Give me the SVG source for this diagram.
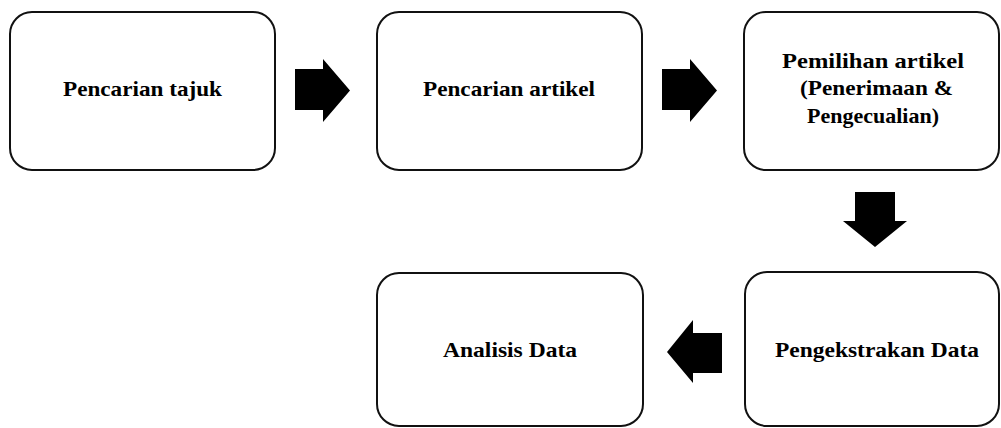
<svg xmlns="http://www.w3.org/2000/svg" width="1001" height="428" viewBox="0 0 1001 428">
<style>
.box{fill:#fff;stroke:#111;stroke-width:2}
.lbl{font-family:"Liberation Serif","Times New Roman",serif;font-weight:bold;font-size:22px;fill:#000;text-anchor:middle}
.arr{fill:#000}
</style>
<rect width="1001" height="428" fill="#fff"/>
<g id="n1"><rect class="box" x="10" y="12" width="265" height="158" rx="22"/><text class="lbl" x="142.5" y="96" textLength="159" lengthAdjust="spacingAndGlyphs">Pencarian tajuk</text></g>
<g id="n2"><rect class="box" x="377" y="12" width="265" height="158" rx="22"/><text class="lbl" x="509" y="96" textLength="172" lengthAdjust="spacingAndGlyphs">Pencarian artikel</text></g>
<g id="n3"><rect class="box" x="744" y="12" width="255" height="158" rx="22"/>
<text class="lbl" x="873" y="67.5" textLength="182" lengthAdjust="spacingAndGlyphs">Pemilihan artikel</text>
<text class="lbl" x="876.5" y="95" textLength="153" lengthAdjust="spacingAndGlyphs">(Penerimaan &amp;</text>
<text class="lbl" x="873" y="122.5" textLength="132" lengthAdjust="spacingAndGlyphs">Pengecualian)</text></g>
<g id="n4"><rect class="box" x="377" y="273" width="266" height="153" rx="22"/><text class="lbl" x="510" y="357" textLength="134" lengthAdjust="spacingAndGlyphs">Analisis Data</text></g>
<g id="n5"><rect class="box" x="745" y="272" width="254" height="154" rx="22"/><text class="lbl" x="877" y="357" textLength="204" lengthAdjust="spacingAndGlyphs">Pengekstrakan Data</text></g>
<g id="connectors">
<polygon class="arr" points="295,69 323,69 323,59 350,90.5 323,122 323,110 295,110"/>
<polygon class="arr" points="662,69 690,69 690,59 717,90.5 690,122 690,110 662,110"/>
<polygon class="arr" points="855,192 895,192 895,221 907,221 875,247 843,221 855,221"/>
<polygon class="arr" points="722,333 722,373 693,373 693,383 667,352 693,320 693,333"/>
</g>
</svg>
